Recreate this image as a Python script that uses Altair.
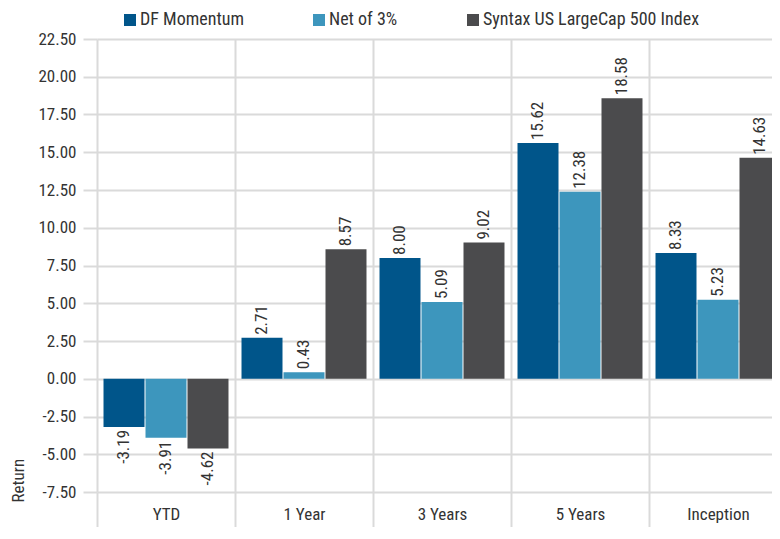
import altair as alt
import pandas as pd

categories = ["YTD", "1 Year", "3 Years", "5 Years", "Inception"]
series = ["DF Momentum", "Net of 3%", "Syntax US LargeCap 500 Index"]
df_momentum = [-3.19, 2.71, 8.00, 15.62, 8.33]
net_of_3 = [-3.91, 0.43, 5.09, 12.38, 5.23]
syntax_index = [-4.62, 8.57, 9.02, 18.58, 14.63]
colors = ["#00558a", "#3d96bd", "#4b4b4d"]
y_ticks = [-7.5, -5.0, -2.5, 0.0, 2.5, 5.0, 7.5, 10.0, 12.5, 15.0, 17.5, 20.0, 22.5]

rows = []
for s, vals in zip(series, [df_momentum, net_of_3, syntax_index]):
    for c, v in zip(categories, vals):
        rows.append({"period": c, "series": s, "value": v})
data = pd.DataFrame(rows)

FONT = "'Liberation Sans Narrow', 'Roboto Condensed', 'Arial Narrow', Roboto, sans-serif"
GRID = "#dadada"
TXT = "#333333"

x_enc = alt.X(
    "period:N",
    sort=categories,
    scale=alt.Scale(paddingInner=0, paddingOuter=0, range=[0, 690]),
    axis=alt.Axis(
        title=None, orient="bottom", domain=False, grid=True, gridColor=GRID,
        gridWidth=2, tickBand="extent", ticks=True, tickSize=47, tickColor=GRID,
        tickWidth=2, labelPadding=-33, labelAngle=0, labelFontSize=17,
        labelColor=TXT, labelFont=FONT, labelOverlap=False,
    ),
)
xoff_enc = alt.XOffset(
    "series:N", sort=series,
    scale=alt.Scale(paddingInner=0.024, paddingOuter=0.155),
)
y_enc = alt.Y(
    "value:Q",
    scale=alt.Scale(domain=[-7.5, 22.5], nice=False, zero=False),
    axis=alt.Axis(
        title="Return", values=y_ticks, format=".2f", domain=False, grid=True,
        labelExpr="replace(datum.label, '\u2212', '-')", labelOverlap=False,
        gridColor=GRID, gridWidth=2, ticks=True, tickSize=14, tickColor=GRID,
        tickWidth=2, labelPadding=7, labelFontSize=17, labelColor=TXT,
        labelFont=FONT, titleFont=FONT, titleFontSize=17, titleFontWeight="normal",
        titleColor=TXT, titleAngle=270, titleAlign="left", titleBaseline="middle",
        titleX=-79, titleY=463,
    ),
)
color_enc = alt.Color(
    "series:N", sort=series,
    scale=alt.Scale(domain=series, range=colors),
    legend=alt.Legend(
        title=None, orient="none", direction="horizontal", legendX=24, legendY=-28,
        symbolType="square", symbolSize=144, symbolStrokeWidth=0,
        labelFontSize=18, labelFont=FONT, labelColor=TXT, columnPadding=66,
        labelOffset=1, labelLimit=0,
    ),
)

base = alt.Chart(data).transform_calculate(
    label="replace(format(datum.value, '.2f'), '\u2212', '-')"
)
bars = base.mark_bar().encode(x=x_enc, xOffset=xoff_enc, y=y_enc, y2=alt.datum(0), color=color_enc)

pos = base.transform_filter("datum.value >= 0").mark_text(
    angle=270, align="left", baseline="middle", dx=3, fontSize=17, font=FONT, color=TXT
).encode(x=x_enc, xOffset=xoff_enc, y=y_enc, text="label:N")
neg = base.transform_filter("datum.value < 0").mark_text(
    angle=270, align="right", baseline="middle", dx=-3, fontSize=17, font=FONT, color=TXT
).encode(x=x_enc, xOffset=xoff_enc, y=y_enc, text="label:N")

chart = alt.layer(bars, pos, neg).properties(
    width=675, height=453,
    autosize=alt.AutoSizeParams(type="none"),
    padding={"left": 89, "top": 31, "right": 0, "bottom": 35},
).configure_view(stroke=None)

chart.save("out.html", embed_options={"renderer": "svg", "actions": False})
